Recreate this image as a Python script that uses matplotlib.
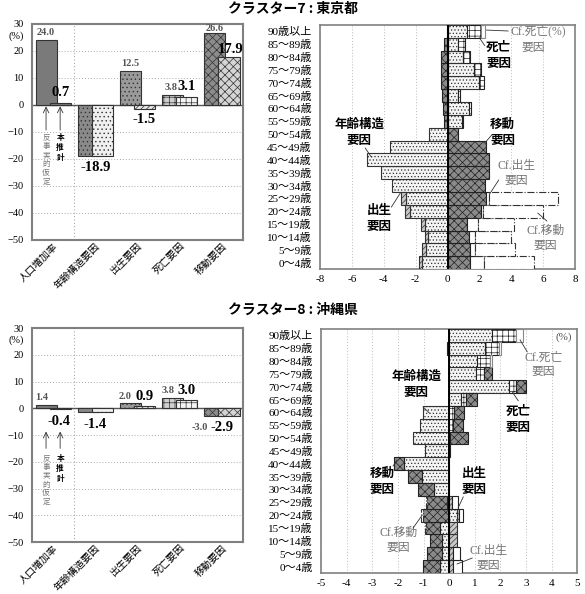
import matplotlib
matplotlib.use("Agg")
import matplotlib.pyplot as plt
import numpy as np

plt.rcParams['font.family'] = ['Liberation Serif', 'Noto Sans CJK JP']
plt.rcParams['hatch.linewidth'] = 0.5
GOTHIC = ['Noto Sans CJK JP', 'DejaVu Sans']

# ---- data: left charts (population growth decomposition, %) ----
categories = ["人口増加率", "年齢構造要因", "出生要因", "死亡要因", "移動要因"]
tokyo_cf = [24.0, -18.9, 12.5, 3.8, 26.6]
tokyo_main = [0.7, -18.9, -1.5, 3.1, 17.9]
okinawa_cf = [1.4, -1.4, 2.0, 3.8, -3.0]
okinawa_main = [-0.4, -1.4, 0.9, 3.0, -2.9]

# ---- data: right charts (contribution by age group, %) ----
ages = ["0～4歳", "5～9歳", "10～14歳", "15～19歳", "20～24歳", "25～29歳",
        "30～34歳", "35～39歳", "40～44歳", "45～49歳", "50～54歳", "55～59歳",
        "60～64歳", "65～69歳", "70～74歳", "75～79歳", "80～84歳", "85～89歳",
        "90歳以上"]

tokyo_age = [-1.57, -1.38, -1.24, -1.44, -2.37, -2.6, -3.46, -4.15, -5.05, -3.6,
             -1.15, 0.9, 1.32, 0.64, 1.98, 1.67, 0.95, 0.64, 1.2]
tokyo_birth = [-0.2, -0.21, -0.2, -0.23, -0.31, -0.3, 0, 0, 0, 0,
               0, 0, 0, 0, 0, 0, 0, 0, 0]
tokyo_death = [0, 0, 0, 0, 0, 0, 0, 0, 0, 0,
               0, 0.05, 0.14, 0.16, 0.31, 0.41, 0.49, 0.47, 0.88]
tokyo_mig = [1.42, 1.38, 1.34, 1.22, 2.1, 2.4, 2.37, 2.58, 2.6, 2.4,
             0.64, -0.25, -0.3, -0.35, -0.4, -0.4, -0.4, -0.25, -0.05]
tokyo_cf_birth = [0.88, 0.33, 0.36, 0.68, 0.15, 0.2, 0, 0, 0, 0,
                  0, 0, 0, 0, 0, 0, 0, 0, 0]
tokyo_cf_mig = [3.1, 2.52, 2.26, 2.26, 3.75, 4.35, 0, 0, 0, 0,
                0, 0, 0, 0, 0, 0, 0, 0, 0]
tokyo_cf_death = [0, 0, 0, 0, 0, 0, 0, 0, 0, 0,
                  0, 0, 0, 0, 0, 0, 0, 0, 0.3]

okinawa_age = [-0.35, -0.29, -0.29, -0.35, 0.3, -0.07, -0.61, -1.07, -1.78, -0.96,
               -1.4, -1.13, -1.03, 0.46, 2.32, 1.05, 1.1, 1.4, 1.67]
okinawa_birth = [0.14, 0.14, 0.3, 0.3, 0.1, 0.13, 0, 0, 0, 0,
                 0, 0, 0, 0, 0, 0, 0, 0, 0]
okinawa_death = [0, 0, 0, 0, 0, 0, 0, 0, 0, 0,
                 0.05, 0.14, 0.17, 0.2, 0.3, 0.32, 0.5, 0.56, 0.95]
okinawa_mig = [-0.69, -0.58, -0.45, -0.57, -1.04, -0.8, -0.59, -0.52, -0.39, 0.05,
               0.67, 0.42, 0.42, 0.44, 0.38, 0.3, 0, -0.1, 0]
okinawa_cf_birth = [0.36, 0.29, 0, 0, 0.16, 0.2, 0, 0, 0, 0,
                    0, 0, 0, 0, 0, 0, 0, 0, 0]
okinawa_cf_mig = [0, 0, 0, -0.03, -0.06, -0.04, 0, 0, 0, 0,
                  0, 0, 0, 0, 0, 0, 0, 0, 0]
okinawa_cf_death = [0, 0, 0, 0, 0, 0, 0, 0, 0, 0,
                    0, 0, 0, 0, 0, 0, 0.07, 0.05, 0.27]

# bar styles for left charts (counterfactual / this projection)
cf_faces = ['#7a7a7a', '#8a8a8a', '#9a9a9a', '#d0d0d0', '#8c8c8c']
cf_hatches = [None, '....', '....', '+++', 'xxxx']
main_faces = ['#7a7a7a', '#f0f0f0', '#e8e8e8', '#f4f4f4', '#d4d4d4']
main_hatches = [None, '....', '//////', '+++', 'xxxx']

# segment styles for right charts
seg_styles = [
    dict(facecolor='#f4f4f4', hatch='.....', edgecolor='#333333', linewidth=0.8),
    dict(facecolor='#c8c8c8', hatch='//////', edgecolor='#333333', linewidth=0.8),
    dict(facecolor='white', hatch='+++', edgecolor='#222222', linewidth=0.8),
    dict(facecolor='#8a8a8a', hatch='xxxx', edgecolor='#222222', linewidth=0.8),
    dict(facecolor='white', edgecolor='#222222', linewidth=0.8),
    dict(facecolor='white', edgecolor='#333333', linestyle='-.', linewidth=0.8),
    dict(facecolor='white', edgecolor='#888888', linewidth=0.8),
]

FRAME = '#808080'


def draw_factor_bars(ax, cf_vals, main_vals, cf_lab, main_lab, arrow_y, note_y):
    x = np.arange(len(categories))
    for i in range(len(categories)):
        ax.bar(x[i] - 0.167, cf_vals[i], width=0.5, facecolor=cf_faces[i],
               hatch=cf_hatches[i], edgecolor='#333333', linewidth=0.8, zorder=3)
        ax.bar(x[i] + 0.167, main_vals[i], width=0.5, facecolor=main_faces[i],
               hatch=main_hatches[i], edgecolor='#333333', linewidth=0.8, zorder=4)
        if cf_lab[i] is not None:
            dx, dy = cf_lab[i]
            ax.text(x[i] + dx, cf_vals[i] + dy, f"{cf_vals[i]:.1f}", ha='center',
                    va='center', fontsize=7.5, color='#555555', fontweight='bold',
                    zorder=6)
        dx, dy = main_lab[i]
        ax.text(x[i] + dx, main_vals[i] + dy, f"{main_vals[i]:.1f}", ha='center',
                va='center', fontsize=10.5, color='black', fontweight='bold',
                zorder=6)

    ax.set_xlim(-0.5, 4.5)
    ax.set_ylim(-50, 30)
    ax.set_yticks(np.arange(-50, 31, 10))
    ax.set_xticks(x)
    ax.set_xticklabels(categories, rotation=45, ha='right', rotation_mode='anchor',
                       fontsize=7.2)
    ax.tick_params(axis='y', labelsize=7.5, length=0, pad=6)
    ax.tick_params(axis='x', length=0, pad=1)
    for yv in np.arange(-40, 31, 10):
        if yv != 0:
            ax.axhline(yv, color='#aaaaaa', lw=0.7, ls=(0, (1, 2)), zorder=1)
    ax.axhline(0, color='#555555', lw=1.0, zorder=2)
    ax.axvline(0.5, color='#aaaaaa', lw=0.8, ls=(0, (1, 2)), zorder=1)
    for s in ax.spines.values():
        s.set_color(FRAME)
        s.set_linewidth(1.5)
    ax.text(-0.88, 25.6, "(%)", ha='center', va='center', fontsize=7.5, clip_on=False)

    # arrows and vertical notes under the first category
    for xo in (-0.167, 0.167):
        ax.annotate("", xy=(xo, arrow_y[1]), xytext=(xo, arrow_y[0]),
                    arrowprops=dict(arrowstyle='->', color='#333333', lw=0.6,
                                    shrinkA=0, shrinkB=0), zorder=5)
    ax.text(-0.167, note_y, "\n".join("反事実的仮定"), ha='center', va='top',
            fontsize=5.5, color='#777777', linespacing=1.15, family=GOTHIC)
    ax.text(0.167, note_y, "\n".join("本推計"), ha='center', va='top',
            fontsize=5.5, color='black', fontweight='bold', linespacing=1.15,
            family=GOTHIC)


def draw_pyramid(ax, series, xmax, step):
    y = np.arange(len(ages))
    pos = np.zeros(len(ages))
    neg = np.zeros(len(ages))
    for vals, style in zip(series, seg_styles):
        vals = np.array(vals, dtype=float)
        left = np.where(vals >= 0, pos, neg)
        m = vals != 0
        ax.barh(y[m], vals[m], left=left[m], height=1.0, zorder=3, **style)
        pos += np.clip(vals, 0, None)
        neg += np.clip(vals, None, 0)
    ax.axvline(0, color='black', lw=1.4, zorder=5)
    ticks = np.arange(-xmax, xmax + 0.1, step)
    for t in ticks:
        ax.axvline(t, color='#bbbbbb', lw=0.7, ls=(0, (1, 2)), zorder=1)
    ax.set_xlim(-xmax, xmax)
    ax.set_ylim(-0.5, len(ages) - 0.5)
    ax.set_xticks(ticks)
    ax.set_xticklabels([f"{int(t)}" for t in ticks], fontsize=8)
    ax.set_yticks(y)
    ax.set_yticklabels(ages, fontsize=8)
    ax.tick_params(length=0, pad=4)
    ax.tick_params(axis='y', pad=6)
    for s in ax.spines.values():
        s.set_color(FRAME)
        s.set_linewidth(1.2)


def note(ax, text, xy, line, gray=False, ha='center'):
    if gray:
        ax.text(xy[0], xy[1], text, ha=ha, va='center', fontsize=8.5,
                color='#777777', linespacing=1.3, zorder=7)
    else:
        ax.text(xy[0], xy[1], text, ha=ha, va='center', fontsize=9,
                color='black', fontweight='bold', linespacing=1.3, family=GOTHIC,
                zorder=7)
    if line is not None:
        ax.plot([line[0], line[2]], [line[1], line[3]], color='#333333', lw=0.6,
                zorder=7, clip_on=False)


fig = plt.figure(figsize=(5.85, 5.94), dpi=100)
ax_tl = fig.add_axes([0.0547, 0.596, 0.3607, 0.3636])
ax_bl = fig.add_axes([0.0547, 0.0875, 0.3607, 0.3603])
ax_tr = fig.add_axes([0.547, 0.547, 0.436, 0.411])
ax_br = fig.add_axes([0.549, 0.0354, 0.4376, 0.411])

fig.text(0.5, 1 - 9 / 594, "クラスター7 : 東京都", ha='center', va='center',
         fontsize=10, fontweight='bold', family=GOTHIC)
fig.text(0.5, 1 - 310 / 594, "クラスター8 : 沖縄県", ha='center', va='center',
         fontsize=10, fontweight='bold', family=GOTHIC)

# left charts
draw_factor_bars(ax_tl, tokyo_cf, tokyo_main,
                 [(-0.17, 2.7), None, (-0.17, 2.7), (-0.2, 2.5), (-0.18, 1.9)],
                 [(0.19, 4.1), (0.0, -4.1), (0.16, -4.0), (0.17, 3.9), (0.2, 2.5)],
                 arrow_y=(-9.3, -0.5), note_y=-10.5)
draw_factor_bars(ax_bl, okinawa_cf, okinawa_main,
                 [(-0.26, 2.8), None, (-0.29, 2.5), (-0.27, 3.0), (-0.52, -4.2)],
                 [(0.14, -4.5), (0.0, -4.6), (0.16, 3.6), (0.15, 3.8), (0.0, -4.3)],
                 arrow_y=(-15.0, -8.7), note_y=-17.0)

# right charts
draw_pyramid(ax_tr, [tokyo_age, tokyo_birth, tokyo_death, tokyo_mig,
                     tokyo_cf_birth, tokyo_cf_mig, tokyo_cf_death], 8, 2)
draw_pyramid(ax_br, [okinawa_age, okinawa_birth, okinawa_death, okinawa_mig,
                     okinawa_cf_birth, okinawa_cf_mig, okinawa_cf_death], 5, 1)

# annotations: Tokyo
note(ax_tr, "Cf.死亡(%)", (3.96, 18.03), (2.45, 18.1, 3.8, 18.03), gray=True, ha='left')
note(ax_tr, "死亡\n要因", (3.2, 16.1), (2.0, 17.5, 2.33, 16.9))
note(ax_tr, "要因", (5.35, 16.75), None, gray=True)
note(ax_tr, "移動\n要因", (3.46, 10.1), (2.39, 9.39, 2.77, 9.93))
note(ax_tr, "年齢構造\n要因", (-5.53, 10.13), (-5.16, 8.92, -4.78, 8.22))
note(ax_tr, "Cf.出生\n要因", (4.34, 6.93), (3.21, 6.43, 2.64, 5.34), gray=True)
note(ax_tr, "出生\n要因", (-4.28, 3.43), (-3.52, 4.33, -2.96, 5.42))
note(ax_tr, "Cf.移動\n要因", (6.16, 1.91), (5.66, 3.86, 6.23, 3.24), gray=True)

# annotations: Okinawa
ax_br.text(4.8, 17.88, "(%)", ha='right', va='center', fontsize=8, color='#555555')
note(ax_br, "Cf.死亡\n要因", (3.67, 15.7), (2.77, 17.64, 3.05, 16.71), gray=True)
note(ax_br, "年齢構造\n要因", (-1.29, 14.18), (-1.02, 12.43, -0.78, 11.96))
note(ax_br, "死亡\n要因", (2.7, 11.45), (2.46, 13.6, 2.7, 12.9))
note(ax_br, "移動\n要因", (-2.62, 6.62), (-2.19, 7.83, -2.03, 8.3))
note(ax_br, "出生\n要因", (0.98, 6.62), (0.55, 5.42, 0.35, 4.56))
note(ax_br, "Cf.移動\n要因", (-1.99, 2.03), (-1.41, 3.0, -1.05, 4.01), gray=True)
note(ax_br, "Cf.出生\n要因", (1.52, 0.66), (0.9, 0.66, 0.31, 0.2), gray=True)

fig.savefig("out.png", dpi=100)
